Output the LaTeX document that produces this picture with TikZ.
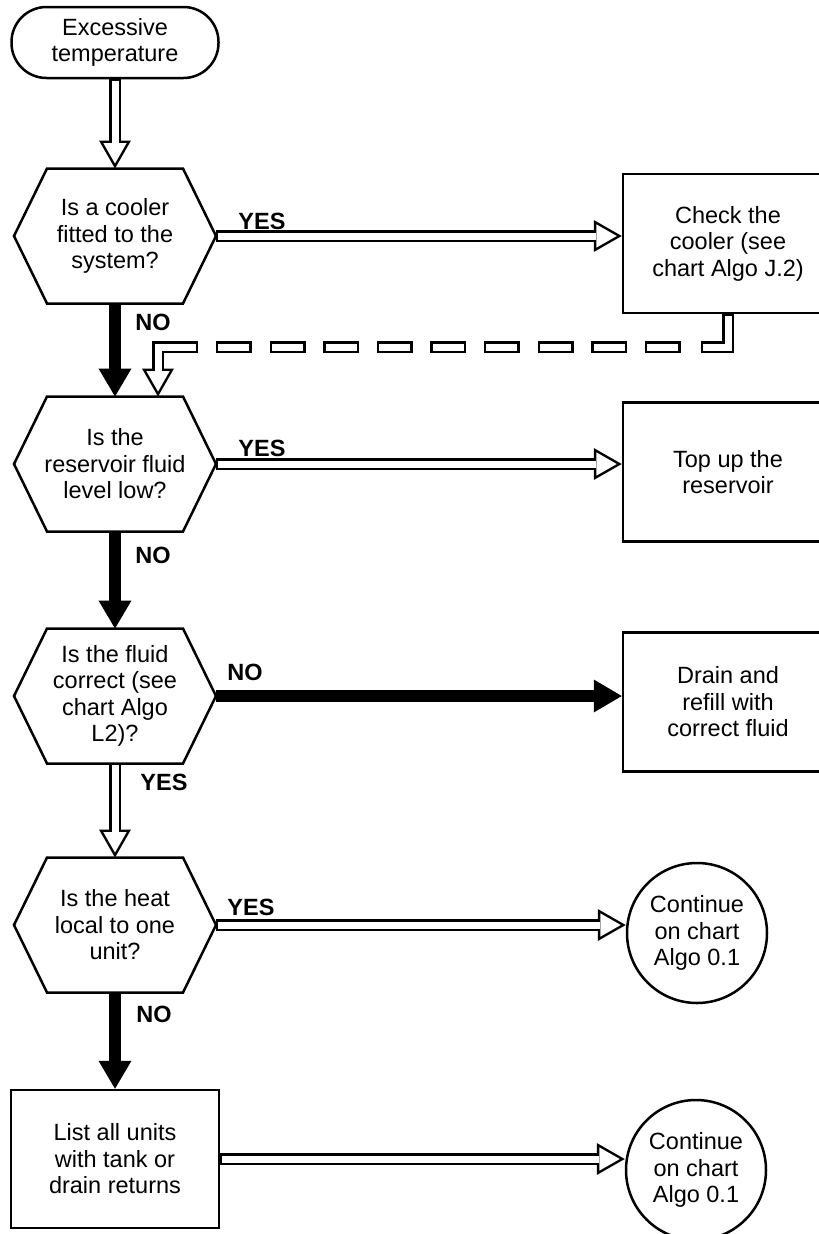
\documentclass[tikz,border=0pt]{standalone}
\usepackage{fontspec}
\setmainfont{Liberation Sans}
\usetikzlibrary{arrows.meta}
\newcommand{\chartfont}{\fontsize{23.5pt}{26.5pt}\selectfont}
\tikzset{
  startnode/.style={draw, line width=2.5pt, rounded corners=35pt, minimum width=207pt, minimum height=71pt, align=center, font=\chartfont, inner sep=0pt},
  hexnode/.style={minimum width=202pt, minimum height=135pt, align=center, font=\chartfont, inner sep=0pt, outer sep=0pt},
  hexline/.style={draw, line width=2.5pt, line join=miter},
  actbox/.style={draw, line width=2.5pt, minimum width=210pt, minimum height=139pt, align=center, font=\chartfont, inner sep=0pt},
  endcircle/.style={draw, circle, line width=2.5pt, minimum size=140pt, align=center, font=\chartfont, inner sep=0pt},
  noflow/.style={line width=12pt, -{Triangle[length=28pt, width=33pt, line width=0pt]}},
  yesflow/.style={line width=12pt, -{Triangle[length=28pt, width=32pt, line width=0pt]},
    postaction={draw=white, line width=7pt, shorten <=1.5pt, shorten >=5pt, -{Triangle[length=20.5pt, width=23.4pt, line width=0pt]}}},
  dashflow/.style={line width=12pt, -{Triangle[length=28pt, width=32pt, line width=0pt]},
    dash pattern=on 60pt off 20pt on 36pt off 17.6pt on 36pt off 17.6pt on 36pt off 17.6pt on 36pt off 17.6pt on 36pt off 17.6pt on 36pt off 17.6pt on 36pt off 17.6pt on 36pt off 17.6pt on 36pt off 17.6pt on 200pt off 1pt,
    postaction={draw=white, line width=7pt, shorten <=1.5pt, shorten >=5pt, -{Triangle[length=20.5pt, width=23.4pt, line width=0pt]},
      dash pattern=on 56pt off 25pt on 31pt off 22.6pt on 31pt off 22.6pt on 31pt off 22.6pt on 31pt off 22.6pt on 31pt off 22.6pt on 31pt off 22.6pt on 31pt off 22.6pt on 31pt off 22.6pt on 31pt off 22.6pt on 200pt off 1pt}},
  tag/.style={font=\chartfont\bfseries, inner sep=0pt}
}

\begin{document}
\begin{tikzpicture}[x=1pt, y=-1pt]
  \useasboundingbox (0,0) rectangle (819,1234);
  \clip (0,0) rectangle (819,1234);
  \node[startnode] (start) at (115,42.5) {Excessive\\temperature};
  \node[hexnode] (h1) at (115,236) {Is a cooler\\fitted to the\\system?};
  \node[hexnode] (h2) at (115,464) {Is the\\reservoir fluid\\level low?};
  \node[hexnode] (h3) at (115,696) {Is the fluid\\correct (see\\chart Algo\\L2)?};
  \node[hexnode] (h4) at (115,925) {Is the heat\\local to one\\unit?};
  \node[actbox] (b1) at (728,243.5) {Check the\\cooler (see\\chart Algo J.2)};
  \node[actbox] (b2) at (728,472) {Top up the\\reservoir};
  \node[actbox] (b3) at (728,702) {Drain and\\refill with\\correct fluid};
  \node[actbox, minimum width=208pt, minimum height=138pt] (b4) at (115,1159) {List all units\\with tank or\\drain returns};
  \node[endcircle] (c1) at (697,933) {Continue\\on chart\\Algo 0.1};
  \node[endcircle] (c2) at (696,1170) {Continue\\on chart\\Algo 0.1};
  \foreach \h in {h1,h2,h3,h4}
    \draw[hexline] (\h.west) -- ([xshift=33pt]\h.north west) -- ([xshift=-33pt]\h.north east) -- (\h.east) -- ([xshift=-33pt]\h.south east) -- ([xshift=33pt]\h.south west) -- cycle;
  \node[tag] (y1) at (262,221) {YES};
  \node[tag] (n1) at (153,322) {NO};
  \node[tag] (y2) at (262,448) {YES};
  \node[tag] (n2) at (153,555) {NO};
  \node[tag] (n3) at (245,672) {NO};
  \node[tag] (y3) at (164,782) {YES};
  \node[tag] (y4) at (251,907) {YES};
  \node[tag] (n4) at (154,1014) {NO};
  \coordinate (bend) at (158,347);
  \draw[yesflow] (start) -- (h1);
  \draw[yesflow] (h1.east) -- (h1.east -| b1.west);
  \draw[noflow] (h1) -- (h2);
  \draw[dashflow] (b1.south) |- (bend) -- (bend |- h2.north);
  \draw[yesflow] (h2.east) -- (h2.east -| b2.west);
  \draw[noflow] (h2) -- (h3);
  \draw[noflow] (h3.east) -- (h3.east -| b3.west);
  \draw[yesflow] (h3) -- (h4);
  \draw[yesflow] (h4.east) -- (h4.east -| c1.west);
  \draw[noflow] (h4) -- (b4);
  \draw[yesflow] (b4.east) -- (b4.east -| c2.west);
\end{tikzpicture}
\end{document}
